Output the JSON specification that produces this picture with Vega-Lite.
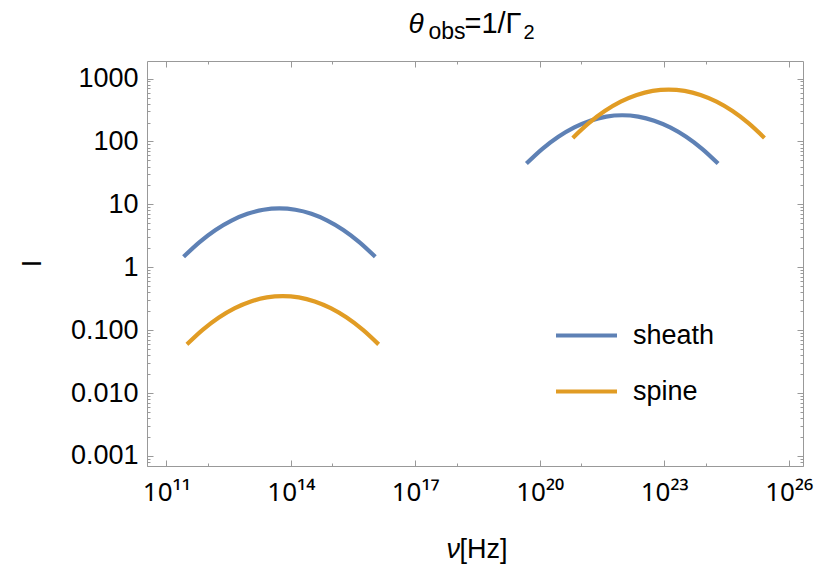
{
  "$schema": "https://vega.github.io/schema/vega-lite/v6.json",
  "width": 656,
  "height": 405,
  "autosize": {"type": "none"},
  "padding": {"left": 147, "top": 61, "right": 26, "bottom": 121},
  "background": "white",
  "config": {
    "view": {"stroke": "#999999", "strokeWidth": 1},
    "axis": {
      "domain": false,
      "grid": false,
      "tickColor": "#999999",
      "tickWidth": 1,
      "labelFont": "Liberation Sans",
      "labelColor": "black",
      "titleFont": "Liberation Sans",
      "titleColor": "black",
      "titleFontWeight": "normal"
    },
    "legend": {"labelFont": "Liberation Sans"}
  },
  "data": {
    "values": [
      {"nu": 2.612e11, "I": 1.469, "series": "sheath", "part": "low"},
      {"nu": 6.339e11, "I": 2.518, "series": "sheath", "part": "low"},
      {"nu": 1.538e12, "I": 3.926, "series": "sheath", "part": "low"},
      {"nu": 3.733e12, "I": 5.534, "series": "sheath", "part": "low"},
      {"nu": 9.057e12, "I": 7.079, "series": "sheath", "part": "low"},
      {"nu": 2.198e13, "I": 8.204, "series": "sheath", "part": "low"},
      {"nu": 5.333e13, "I": 8.610, "series": "sheath", "part": "low"},
      {"nu": 1.294e14, "I": 8.204, "series": "sheath", "part": "low"},
      {"nu": 3.141e14, "I": 7.079, "series": "sheath", "part": "low"},
      {"nu": 7.621e14, "I": 5.534, "series": "sheath", "part": "low"},
      {"nu": 1.849e15, "I": 3.926, "series": "sheath", "part": "low"},
      {"nu": 4.487e15, "I": 2.518, "series": "sheath", "part": "low"},
      {"nu": 1.089e16, "I": 1.469, "series": "sheath", "part": "low"},
      {"nu": 3.148e11, "I": 0.0594, "series": "spine", "part": "low"},
      {"nu": 7.638e11, "I": 0.1019, "series": "spine", "part": "low"},
      {"nu": 1.854e12, "I": 0.1587, "series": "spine", "part": "low"},
      {"nu": 4.498e12, "I": 0.2238, "series": "spine", "part": "low"},
      {"nu": 1.091e13, "I": 0.2861, "series": "spine", "part": "low"},
      {"nu": 2.649e13, "I": 0.3317, "series": "spine", "part": "low"},
      {"nu": 6.427e13, "I": 0.3483, "series": "spine", "part": "low"},
      {"nu": 1.560e14, "I": 0.3317, "series": "spine", "part": "low"},
      {"nu": 3.784e14, "I": 0.2861, "series": "spine", "part": "low"},
      {"nu": 9.183e14, "I": 0.2238, "series": "spine", "part": "low"},
      {"nu": 2.228e15, "I": 0.1587, "series": "spine", "part": "low"},
      {"nu": 5.408e15, "I": 0.1019, "series": "spine", "part": "low"},
      {"nu": 1.312e16, "I": 0.0594, "series": "spine", "part": "low"},
      {"nu": 4.786e19, "I": 44.57, "series": "sheath", "part": "high"},
      {"nu": 1.161e20, "I": 76.43, "series": "sheath", "part": "high"},
      {"nu": 2.818e20, "I": 119.0, "series": "sheath", "part": "high"},
      {"nu": 6.839e20, "I": 167.9, "series": "sheath", "part": "high"},
      {"nu": 1.660e21, "I": 214.6, "series": "sheath", "part": "high"},
      {"nu": 4.027e21, "I": 248.7, "series": "sheath", "part": "high"},
      {"nu": 9.772e21, "I": 261.2, "series": "sheath", "part": "high"},
      {"nu": 2.371e22, "I": 248.7, "series": "sheath", "part": "high"},
      {"nu": 5.754e22, "I": 214.6, "series": "sheath", "part": "high"},
      {"nu": 1.396e23, "I": 167.9, "series": "sheath", "part": "high"},
      {"nu": 3.388e23, "I": 119.0, "series": "sheath", "part": "high"},
      {"nu": 8.222e23, "I": 76.43, "series": "sheath", "part": "high"},
      {"nu": 1.995e24, "I": 44.57, "series": "sheath", "part": "high"},
      {"nu": 6.281e20, "I": 114.0, "series": "spine", "part": "high"},
      {"nu": 1.524e21, "I": 195.6, "series": "spine", "part": "high"},
      {"nu": 3.698e21, "I": 304.5, "series": "spine", "part": "high"},
      {"nu": 8.974e21, "I": 429.6, "series": "spine", "part": "high"},
      {"nu": 2.178e22, "I": 549.0, "series": "spine", "part": "high"},
      {"nu": 5.284e22, "I": 636.5, "series": "spine", "part": "high"},
      {"nu": 1.282e23, "I": 668.3, "series": "spine", "part": "high"},
      {"nu": 3.112e23, "I": 636.5, "series": "spine", "part": "high"},
      {"nu": 7.551e23, "I": 549.0, "series": "spine", "part": "high"},
      {"nu": 1.832e24, "I": 429.6, "series": "spine", "part": "high"},
      {"nu": 4.446e24, "I": 304.5, "series": "spine", "part": "high"},
      {"nu": 1.079e25, "I": 195.6, "series": "spine", "part": "high"},
      {"nu": 2.618e25, "I": 114.0, "series": "spine", "part": "high"}
    ]
  },
  "resolve": {"axis": {"x": "independent", "y": "independent"}},
  "layer": [
    {
      "mark": {"type": "line", "strokeWidth": 4.2, "strokeCap": "butt", "interpolate": "monotone"},
      "encoding": {
        "x": {
          "field": "nu", "type": "quantitative",
          "scale": {"type": "log", "domain": [3.428e10, 2.223e26], "nice": false},
          "axis": {
            "orient": "bottom", "offset": -6, "tickSize": 6,
            "values": [1e11, 1e14, 1e17, 1e20, 1e23, 1e26],
            "labelFont": "Noto Sans",
            "labelFontSize": 26, "labelPadding": 13, "labelFlush": false,
            "labelExpr": "datum.value < 1e12 ? '10¹¹' : datum.value < 1e15 ? '10¹⁴' : datum.value < 1e18 ? '10¹⁷' : datum.value < 1e21 ? '10²⁰' : datum.value < 1e24 ? '10²³' : '10²⁶'",
            "title": "[Hz]", "titleFontSize": 27, "titleAngle": 0,
            "titleX": 312, "titleY": 97, "titleAlign": "left", "titleBaseline": "alphabetic"
          }
        },
        "y": {
          "field": "I", "type": "quantitative",
          "scale": {"type": "log", "domain": [6.918e-4, 1905], "nice": false},
          "axis": {
            "orient": "left", "offset": -6, "tickSize": 6,
            "values": [0.001, 0.01, 0.1, 1, 10, 100, 1000],
            "labelFontSize": 27, "labelPadding": 9,
            "labelExpr": "datum.value >= 1 ? format(datum.value, 'd') : format(datum.value, '.3f')",
            "title": "I", "titleFontSize": 27, "titleAngle": 270,
            "titleX": -121, "titleY": 202, "titleAlign": "center", "titleBaseline": "middle"
          }
        },
        "color": {
          "field": "series", "type": "nominal",
          "scale": {"domain": ["sheath", "spine"], "range": ["#5E81B5", "#E19C24"]},
          "legend": {
            "orient": "none", "legendX": 407, "legendY": 242, "title": null,
            "symbolType": "stroke", "symbolSize": 3721, "symbolStrokeWidth": 4,
            "labelFontSize": 27, "labelOffset": 14, "rowPadding": 10, "padding": 0,
            "labelColor": "black"
          }
        },
        "detail": {"field": "part", "type": "nominal"}
      }
    },
    {
      "mark": {"type": "point", "opacity": 0},
      "encoding": {
        "x": {
          "field": "nu", "type": "quantitative",
          "scale": {"type": "log", "domain": [3.428e10, 2.223e26], "nice": false},
          "axis": {
            "orient": "top", "offset": -6, "tickSize": 6, "labels": false,
            "values": [1e11, 1e14, 1e17, 1e20, 1e23, 1e26],
            "title": "θ", "titleFontSize": 28, "titleFontStyle": "italic", "titleAngle": 0,
            "titleX": 261, "titleY": -35, "titleAlign": "left", "titleBaseline": "alphabetic"
          }
        },
        "y": {
          "field": "I", "type": "quantitative",
          "scale": {"type": "log", "domain": [6.918e-4, 1905], "nice": false},
          "axis": {
            "orient": "right", "offset": -6, "tickSize": 6, "labels": false,
            "values": [0.001, 0.01, 0.1, 1, 10, 100, 1000],
            "title": "=1/Γ", "titleFontSize": 29, "titleAngle": 0,
            "titleX": -333, "titleY": -29, "titleAlign": "left", "titleBaseline": "alphabetic"
          }
        }
      }
    },
    {
      "mark": {"type": "point", "opacity": 0},
      "encoding": {
        "x": {
          "field": "nu", "type": "quantitative",
          "scale": {"type": "log", "domain": [3.428e10, 2.223e26], "nice": false},
          "axis": {
            "orient": "bottom", "offset": -3, "tickSize": 3, "labels": false,
            "values": [1e12, 1e15, 1e18, 1e21, 1e24],
            "title": "ν", "titleFontSize": 27, "titleFontStyle": "italic", "titleAngle": 0,
            "titleX": 299, "titleY": 94, "titleAlign": "left", "titleBaseline": "alphabetic"
          }
        },
        "y": {
          "field": "I", "type": "quantitative",
          "scale": {"type": "log", "domain": [6.918e-4, 1905], "nice": false},
          "axis": {
            "orient": "left", "offset": -3, "tickSize": 3, "labels": false, "title": null,
            "values": [0.0007, 0.0008, 0.0009, 0.002, 0.003, 0.004, 0.005, 0.006, 0.007, 0.008, 0.009, 0.02, 0.03, 0.04, 0.05, 0.06, 0.07, 0.08, 0.09, 0.2, 0.3, 0.4, 0.5, 0.6, 0.7, 0.8, 0.9, 2, 3, 4, 5, 6, 7, 8, 9, 20, 30, 40, 50, 60, 70, 80, 90, 200, 300, 400, 500, 600, 700, 800, 900]
          }
        }
      }
    },
    {
      "mark": {"type": "point", "opacity": 0},
      "encoding": {
        "x": {
          "field": "nu", "type": "quantitative",
          "scale": {"type": "log", "domain": [3.428e10, 2.223e26], "nice": false},
          "axis": {
            "orient": "top", "offset": -3, "tickSize": 3, "labels": false,
            "values": [1e12, 1e15, 1e18, 1e21, 1e24],
            "title": "obs", "titleFontSize": 23, "titleAngle": 0,
            "titleX": 281, "titleY": -26, "titleAlign": "left", "titleBaseline": "alphabetic"
          }
        },
        "y": {
          "field": "I", "type": "quantitative",
          "scale": {"type": "log", "domain": [6.918e-4, 1905], "nice": false},
          "axis": {
            "orient": "right", "offset": -3, "tickSize": 3, "labels": false,
            "values": [0.0007, 0.0008, 0.0009, 0.002, 0.003, 0.004, 0.005, 0.006, 0.007, 0.008, 0.009, 0.02, 0.03, 0.04, 0.05, 0.06, 0.07, 0.08, 0.09, 0.2, 0.3, 0.4, 0.5, 0.6, 0.7, 0.8, 0.9, 2, 3, 4, 5, 6, 7, 8, 9, 20, 30, 40, 50, 60, 70, 80, 90, 200, 300, 400, 500, 600, 700, 800, 900],
            "title": "2", "titleFontSize": 20, "titleAngle": 0,
            "titleX": -277, "titleY": -23, "titleAlign": "left", "titleBaseline": "alphabetic"
          }
        }
      }
    }
  ]
}
